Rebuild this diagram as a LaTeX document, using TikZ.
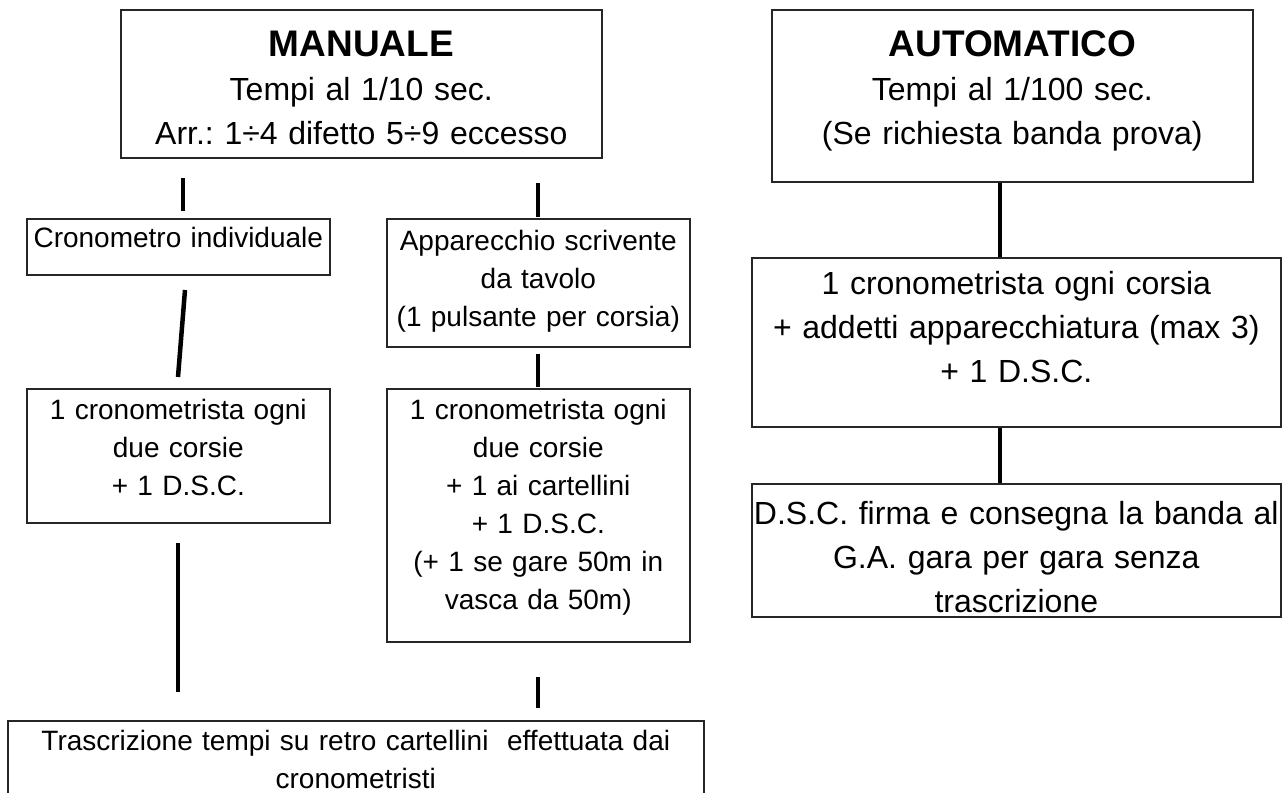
\documentclass[tikz,border=0pt]{standalone}
\usepackage{fontspec}
\setmainfont{Liberation Sans}
\frenchspacing
\begin{document}
\begin{tikzpicture}
[x=1pt,y=-1pt,
  boxdecorate/.style={draw=black!85,line width=1.6pt,align=center,
    inner xsep=0pt,inner ysep=0pt,anchor=north west},
  smalltext/.style={font=\fontsize{28}{38}\selectfont},
  bigtext/.style={font=\fontsize{32}{44}\selectfont},
  linedecorate/.style={-,line width=4.5pt}]
\useasboundingbox (0,0) rectangle (1286,793);
%% title boxes
\foreach \nodename/\x/\y/\w/\b/\d/\title/\txt in {
  manuale/120/9/481/47/101/MANUALE/{Tempi al 1/10 sec.\\Arr.: 1÷4 difetto 5÷9 eccesso},
  auto/771/9/481/47/125/AUTOMATICO/{Tempi al 1/100 sec.\\(Se richiesta banda prova)}} {
  \node (\nodename) at (\x,\y) [boxdecorate,bigtext,text width=\w pt,
    text height=\b pt,text depth=\d pt]
    {{\fontsize{37}{44}\selectfont\bfseries\title}\\\txt};
}
%% manual side
\foreach \nodename/\x/\y/\w/\b/\d/\txt in {
  crono/26/218/303/29/27/{Cronometro individuale},
  appar/386/218/303/32/96/{Apparecchio scrivente\\da tavolo\\(1 pulsante per corsia)},
  ogniL/26/388/303/31/103/{1 cronometrista ogni\\due corsie\\+ 1 D.S.C.},
  ogniR/386/388/303/31/222/{1 cronometrista ogni\\due corsie\\+ 1 ai cartellini\\+ 1 D.S.C.\\(+ 1 se gare 50m in\\vasca da 50m)},
  trascr/7/720/696/30/100/{Trascrizione tempi su retro cartellini~ effettuata dai\\cronometristi}} {
  \node (\nodename) at (\x,\y) [boxdecorate,smalltext,text width=\w pt,
    text height=\b pt,text depth=\d pt] {\txt};
}
%% automatic side
\foreach \nodename/\x/\y/\w/\b/\d/\txt in {
  corsia/751/257/529/37/132/{1 cronometrista ogni corsia\\+ addetti apparecchiatura (max 3)\\+ 1 D.S.C.},
  dsc/751/483/529/41/92/{D.S.C. firma e consegna la banda al\\G.A. gara per gara senza\\trascrizione}} {
  \node (\nodename) at (\x,\y) [boxdecorate,bigtext,text width=\w pt,
    text height=\b pt,text depth=\d pt] {\txt};
}
%% strokes between the boxes
\foreach \cname/\x/\y in {m1/183/178, c1/183/211, m2/538/183, a1/538/217,
  c2/185/290, o1/178/377, a2/538/354, o2/538/387,
  o3/178/543, t1/178/692, o4/538/677, t2/538/708} {
  \coordinate (\cname) at (\x,\y);
}
\coordinate (auline) at (1000,0);
\path
\foreach \startnode/\endnode in {m1/c1, m2/a1, c2/o1, a2/o2, o3/t1, o4/t2} {
  (\startnode) edge[linedecorate] (\endnode)
};
\path (auto.south -| auline) edge[linedecorate] (corsia.north -| auline)
  (corsia.south -| auline) edge[linedecorate] (dsc.north -| auline);
\end{tikzpicture}
\end{document}
